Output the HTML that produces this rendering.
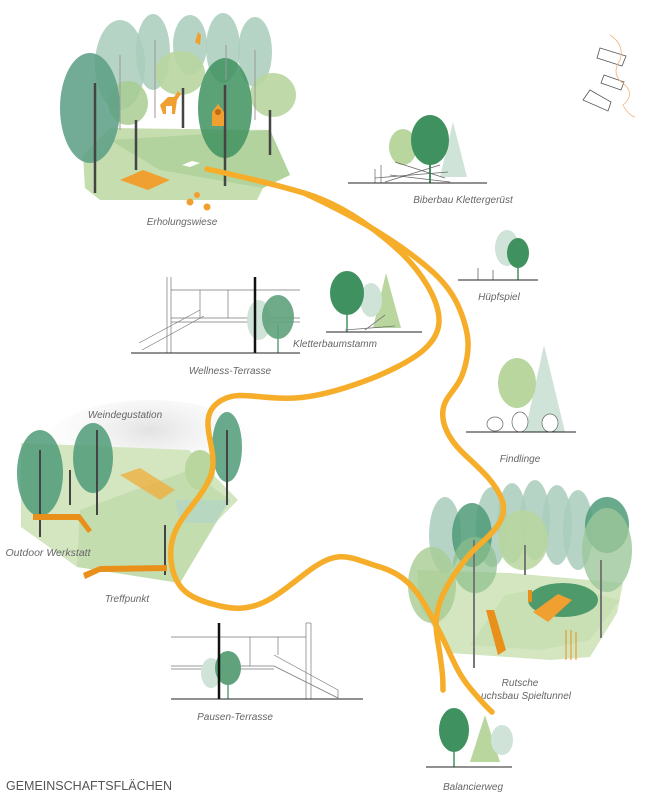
<!DOCTYPE html>
<html><head><meta charset="utf-8"><style>
html,body{margin:0;padding:0;background:#fff;}
svg{display:block;}
.l{font-family:"Liberation Sans",sans-serif;font-style:italic;font-size:10px;fill:#666;text-anchor:middle;}
</style></head><body>
<svg width="663" height="800" viewBox="0 0 663 800" xmlns="http://www.w3.org/2000/svg">
<defs>
<radialGradient id="fog" cx="0.5" cy="0.3" r="0.6"><stop offset="0" stop-color="#e2e2e2"/><stop offset="1" stop-color="#fff" stop-opacity="0"/></radialGradient>
</defs>
<!-- Erholungswiese -->
<g>
<polygon points="83,155 110,128 270,130 290,175 263,188 257,200 100,200 85,188" fill="#c6ddb0"/>
<polygon points="110,140 270,130 290,175 263,188 160,170" fill="#a9cf95" opacity="0.7"/>
<ellipse cx="120" cy="65" rx="25" ry="45" fill="#a9cdbb" opacity="0.85"/>
<ellipse cx="153" cy="52" rx="17" ry="38" fill="#a9cdbb" opacity="0.85"/>
<ellipse cx="190" cy="45" rx="17" ry="30" fill="#a9cdbb" opacity="0.85"/>
<ellipse cx="223" cy="48" rx="17" ry="35" fill="#a9cdbb" opacity="0.85"/>
<ellipse cx="255" cy="52" rx="17" ry="35" fill="#a9cdbb" opacity="0.85"/>
<ellipse cx="180" cy="73" rx="25" ry="22" fill="#b8d69e" opacity="0.9"/>
<ellipse cx="128" cy="103" rx="20" ry="22" fill="#a8cc92" opacity="0.85"/>
<ellipse cx="273" cy="95" rx="23" ry="22" fill="#b8d69e" opacity="0.9"/>
<ellipse cx="90" cy="108" rx="30" ry="55" fill="#5a9e84" opacity="0.85"/>
<ellipse cx="225" cy="108" rx="27" ry="50" fill="#3f925f" opacity="0.85"/>
<g stroke="#444" stroke-width="2.5"><line x1="95" y1="83" x2="95" y2="193"/><line x1="225" y1="85" x2="225" y2="186"/><line x1="136" y1="120" x2="136" y2="170"/><line x1="183" y1="88" x2="183" y2="128"/><line x1="270" y1="110" x2="270" y2="155"/></g>
<g stroke="#999" stroke-width="1"><line x1="120" y1="55" x2="120" y2="130"/><line x1="155" y1="40" x2="155" y2="118"/><line x1="226" y1="45" x2="226" y2="80"/><line x1="255" y1="50" x2="255" y2="120"/></g>
<path d="M160,105 l8,-8 l6,0 l4,-6 l3,3 l-4,6 l-2,14 l-3,0 l0,-8 l-6,0 l0,8 l-3,0z" fill="#f0a030"/>
<path d="M212,112 l6,-8 l6,8 l0,14 l-12,0z" fill="#f0a030"/><circle cx="218" cy="112" r="3" fill="#c06a10"/>
<path d="M195,42 l3,-10 l3,3 l-1,10z" fill="#f0a030"/>
<polygon points="120,180 143,170 170,180 148,190" fill="#f0a030"/>
<circle cx="190" cy="202" r="3.5" fill="#f0a030"/><circle cx="197" cy="195" r="3" fill="#f0a030"/><circle cx="207" cy="207" r="3.5" fill="#f0a030"/>
<path d="M182,165 l10,-4 l8,2 l-10,4z" fill="#fff"/>
</g>
<text class="l" x="182" y="225">Erholungswiese</text>

<!-- mini map -->
<g fill="none" stroke="#555" stroke-width="0.8">
<polygon points="600,48 626,56 622,66 597,58"/><polygon points="604,75 624,82 621,90 601,83"/><polygon points="590,90 611,102 608,111 583,100"/>
</g>
<path d="M610,35 q15,10 10,25 q-10,15 5,25 q10,10 -2,20 q5,10 12,12" fill="none" stroke="#f2b47a" stroke-width="0.8"/>

<!-- Biberbau -->
<polygon points="453,122 440,177 467,177" fill="#cfe3d8"/>
<ellipse cx="403" cy="147" rx="14" ry="18" fill="#b8d69e"/>
<ellipse cx="430" cy="140" rx="19" ry="25" fill="#3f925f"/>
<line x1="430" y1="150" x2="430" y2="183" stroke="#3f925f" stroke-width="2"/>
<g stroke="#666" stroke-width="0.7" fill="none"><line x1="385" y1="182" x2="440" y2="165"/><line x1="390" y1="175" x2="450" y2="182"/><line x1="395" y1="162" x2="445" y2="178"/><line x1="375" y1="178" x2="448" y2="172"/><path d="M375,183 v-14 m6,14 v-18"/></g>
<line x1="348" y1="183" x2="487" y2="183" stroke="#222" stroke-width="1"/>
<text class="l" x="463" y="203">Biberbau Klettergerüst</text>

<!-- Hüpfspiel -->
<ellipse cx="507" cy="248" rx="12" ry="18" fill="#cfe3d8"/>
<ellipse cx="518" cy="253" rx="11" ry="15" fill="#3f925f"/>
<line x1="518" y1="260" x2="518" y2="280" stroke="#3f925f" stroke-width="1.5"/>
<path d="M478,280 v-12 m15,12 v-10" stroke="#666" stroke-width="0.8"/>
<line x1="458" y1="280" x2="538" y2="280" stroke="#222"/>
<text class="l" x="499" y="300">Hüpfspiel</text>

<!-- Kletterbaumstamm -->
<polygon points="386,273 373,328 401,328" fill="#b8d69e"/>
<ellipse cx="371" cy="300" rx="11" ry="17" fill="#cfe3d8"/>
<ellipse cx="347" cy="293" rx="17" ry="22" fill="#3f925f"/>
<line x1="347" y1="300" x2="347" y2="332" stroke="#3f925f" stroke-width="1.5"/>
<path d="M345,330 l50,-4 m-30,4 l20,-15" stroke="#777" stroke-width="0.8"/>
<line x1="326" y1="332" x2="422" y2="332" stroke="#222"/>
<text class="l" x="335" y="347">Kletterbaumstamm</text>

<!-- Wellness -->
<g stroke="#777" stroke-width="0.7" fill="none">
<line x1="167" y1="277" x2="167" y2="353"/><line x1="171" y1="277" x2="171" y2="353"/>
<line x1="171" y1="290" x2="300" y2="290"/><line x1="171" y1="318" x2="300" y2="318"/><line x1="171" y1="322" x2="300" y2="322"/>
<line x1="200" y1="290" x2="200" y2="318"/><line x1="228" y1="290" x2="228" y2="318"/>
<line x1="139" y1="343" x2="200" y2="310"/><line x1="142" y1="350" x2="204" y2="316"/>
</g>
<ellipse cx="259" cy="320" rx="12" ry="20" fill="#cfe3d8"/>
<ellipse cx="278" cy="317" rx="16" ry="22" fill="#5fa27c" opacity="0.9"/>
<line x1="278" y1="325" x2="278" y2="353" stroke="#5fa27c" stroke-width="1.5"/>
<line x1="255" y1="277" x2="255" y2="353" stroke="#111" stroke-width="2.5"/>
<line x1="131" y1="353" x2="300" y2="353" stroke="#222"/>
<text class="l" x="230" y="374">Wellness-Terrasse</text>

<!-- Findlinge -->
<polygon points="544,345 525,432 565,432" fill="#cfe3d8"/>
<ellipse cx="517" cy="383" rx="19" ry="25" fill="#b8d69e"/>
<g fill="#fff" stroke="#666" stroke-width="0.7"><ellipse cx="495" cy="424" rx="8" ry="7"/><ellipse cx="520" cy="422" rx="8" ry="10"/><ellipse cx="550" cy="423" rx="8" ry="9"/></g>
<line x1="466" y1="432" x2="576" y2="432" stroke="#222"/>
<text class="l" x="520" y="462">Findlinge</text>

<!-- Left scene -->
<g>
<ellipse cx="150" cy="450" rx="110" ry="50" fill="url(#fog)"/>
<polygon points="21,443 189,450 238,500 215,523 180,583 77,567 21,527" fill="#d3e6c0"/>
<polygon points="80,510 190,470 230,500 180,583 77,567" fill="#bcd9a6" opacity="0.7"/>
<polygon points="175,500 230,500 215,523 180,523" fill="#b5d6c5" opacity="0.8"/>
<ellipse cx="200" cy="470" rx="15" ry="20" fill="#b8d69e"/>
<ellipse cx="40" cy="473" rx="23" ry="43" fill="#4f9a78" opacity="0.85"/>
<ellipse cx="93" cy="458" rx="20" ry="35" fill="#4f9a78" opacity="0.85"/>
<ellipse cx="227" cy="447" rx="15" ry="35" fill="#4f9a78" opacity="0.85"/>
<polygon points="120,475 140,468 175,490 160,500" fill="#f0b040" opacity="0.8"/>
<g stroke="#444" stroke-width="2"><line x1="40" y1="450" x2="40" y2="537"/><line x1="97" y1="430" x2="97" y2="515"/><line x1="227" y1="430" x2="227" y2="505"/><line x1="165" y1="525" x2="165" y2="575"/><line x1="70" y1="470" x2="70" y2="505"/></g>
<polygon points="33,514 80,514 92,530 88,533 78,520 33,520" fill="#e8901a"/>
<polygon points="83,573 100,566 167,565 167,571 100,572 85,579" fill="#e8901a"/>
</g>
<text class="l" x="125" y="418">Weindegustation</text>
<text class="l" x="48" y="556" style="font-size:10.5px">Outdoor Werkstatt</text>
<text class="l" x="127" y="602">Treffpunkt</text>

<!-- Pausen -->
<g stroke="#777" stroke-width="0.7" fill="none">
<line x1="171" y1="637" x2="306" y2="637"/><line x1="171" y1="666" x2="274" y2="666"/><line x1="171" y1="669" x2="274" y2="669"/>
<line x1="306" y1="623" x2="306" y2="699"/><line x1="311" y1="623" x2="311" y2="699"/><line x1="306" y1="623" x2="311" y2="623"/>
<line x1="274" y1="655" x2="338" y2="690"/><line x1="274" y1="666" x2="338" y2="698"/><line x1="338" y1="690" x2="338" y2="698"/>
<line x1="250" y1="637" x2="250" y2="666"/><line x1="278" y1="637" x2="278" y2="655"/>
</g>
<ellipse cx="211" cy="673" rx="10" ry="15" fill="#cfe3d8"/>
<ellipse cx="228" cy="668" rx="13" ry="17" fill="#5fa27c"/>
<line x1="228" y1="675" x2="228" y2="699" stroke="#5fa27c" stroke-width="1.5"/>
<line x1="219" y1="623" x2="219" y2="699" stroke="#111" stroke-width="2.5"/>
<line x1="171" y1="699" x2="363" y2="699" stroke="#222"/>
<text class="l" x="235" y="720">Pausen-Terrasse</text>

<!-- Rutsche scene -->
<g>
<polygon points="417,570 510,573 623,583 617,613 590,657 550,660 450,653 420,607" fill="#d3e6c0"/>
<ellipse cx="445" cy="535" rx="16" ry="38" fill="#a9cdbb" opacity="0.85"/>
<ellipse cx="492" cy="527" rx="16" ry="40" fill="#a9cdbb" opacity="0.85"/>
<ellipse cx="512" cy="523" rx="15" ry="40" fill="#a9cdbb" opacity="0.85"/>
<ellipse cx="535" cy="520" rx="15" ry="40" fill="#a9cdbb" opacity="0.85"/>
<ellipse cx="557" cy="525" rx="15" ry="40" fill="#a9cdbb" opacity="0.85"/>
<ellipse cx="578" cy="530" rx="15" ry="40" fill="#a9cdbb" opacity="0.85"/>
<ellipse cx="523" cy="540" rx="25" ry="30" fill="#b8d69e" opacity="0.85"/>
<ellipse cx="472" cy="535" rx="20" ry="32" fill="#4f9a78" opacity="0.85"/>
<ellipse cx="475" cy="565" rx="22" ry="28" fill="#8cbf8a" opacity="0.7"/>
<ellipse cx="607" cy="525" rx="22" ry="28" fill="#4f9a78" opacity="0.85"/>
<ellipse cx="607" cy="550" rx="25" ry="42" fill="#9cc79a" opacity="0.8"/>
<ellipse cx="432" cy="585" rx="24" ry="38" fill="#a8cc92" opacity="0.8"/>
<polygon points="505,595 560,585 620,600 590,640 540,650 470,645" fill="#c2dcaa" opacity="0.6"/>
<ellipse cx="563" cy="600" rx="35" ry="17" fill="#4f9a6a"/>
<polygon points="533,612 558,594 572,600 548,622" fill="#f0a030"/>
<rect x="528" y="590" width="4" height="12" fill="#e8901a"/>
<polygon points="486,610 494,610 506,650 498,655" fill="#e8901a"/>
<g stroke="#777" stroke-width="2"><line x1="474" y1="540" x2="474" y2="668"/><line x1="601" y1="560" x2="601" y2="638"/><line x1="525" y1="545" x2="525" y2="575"/></g>
<g stroke="#e8901a" stroke-width="1"><line x1="566" y1="630" x2="566" y2="660"/><line x1="571" y1="630" x2="571" y2="660"/><line x1="576" y1="632" x2="576" y2="660"/></g>
</g>
<text class="l" x="520" y="686">Rutsche</text>
<text class="l" x="526" y="699">uchsbau Spieltunnel</text>

<!-- Balancierweg -->
<polygon points="485,715 470,762 500,762" fill="#b8d69e"/>
<ellipse cx="502" cy="740" rx="11" ry="15" fill="#cfe3d8"/>
<ellipse cx="454" cy="730" rx="15" ry="22" fill="#3f925f"/>
<line x1="454" y1="740" x2="454" y2="767" stroke="#3f925f" stroke-width="1.5"/>
<line x1="426" y1="767" x2="512" y2="767" stroke="#222"/>
<text class="l" x="473" y="790">Balancierweg</text>

<!-- orange path -->
<g fill="none" stroke="#f5ad2a" stroke-width="5.5" stroke-linecap="round" stroke-linejoin="round">
<path d="M207,169 C230,174 270,183 304,193 S370,225 395,247 S440,300 439,322 S415,358 395,368 S330,396 295,398 S240,390 222,400 S207,425 211,445 S214,475 200,495 S168,530 171,560 S190,600 225,607 S280,592 310,570 S350,558 380,567 S420,595 436,625 S455,670 470,688 S488,708 492,712"/>
<path d="M304,193 C330,205 370,225 401,247 S450,285 460,310 S470,350 464,370 S445,395 443,410 S450,440 462,452 S495,480 502,500 S490,535 477,547 S445,585 439,605 S438,640 440,655 S443,675 443,690"/>
</g>

<text x="6" y="790" style="font-family:'Liberation Sans',sans-serif;font-size:12.5px;fill:#555;">GEMEINSCHAFTSFLÄCHEN</text>
</svg>
</body></html>
